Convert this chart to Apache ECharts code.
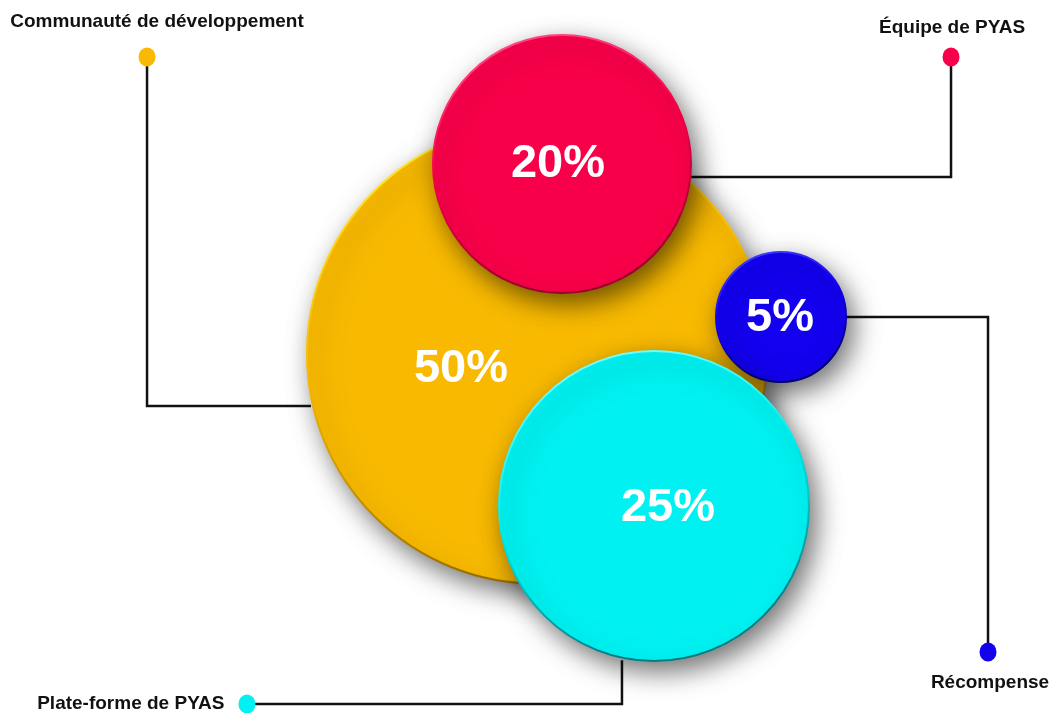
<!DOCTYPE html>
<html>
<head>
<meta charset="utf-8">
<script src="https://cdn.jsdelivr.net/npm/echarts@6/dist/echarts.min.js"></script>
<style>
html,body{margin:0;padding:0;background:#fff;}
#chart{width:1054px;height:713px;}
</style>
</head>
<body>
<div id="chart"></div>
<script>
// ---- data ----
const categories = ['Communauté de développement', 'Équipe de PYAS', 'Récompense', 'Plate-forme de PYAS'];
const shares = [50, 20, 5, 25];

// ---- layout / style (chart units 0..100 on both hidden axes) ----
const bubbleLayout = {
  'Communauté de développement': { center: [50.95, 49.6], size: 460, labelOffset: [-76, 15],
    fill: '#F8B900', rimLight: '#FFF23A', rimDark: '#9A6E00',
    path: [[29.5, 56.94], [13.95, 56.94], [13.95, 8.0]], labelPos: 'top', labelDist: 16, labelShift: [10, 0] },
  'Équipe de PYAS': { center: [53.32, 23.0], size: 258, labelOffset: [-4, 0],
    fill: '#F80049', rimLight: '#FF5C90', rimDark: '#9A002C',
    path: [[65.5, 24.82], [90.23, 24.82], [90.23, 8.0]], labelPos: 'top', labelDist: 10, labelShift: [1, 0] },
  'Récompense': { center: [74.1, 44.46], size: 130, labelOffset: [-1, 1],
    fill: '#1200EE', rimLight: '#4848FF', rimDark: '#000070',
    path: [[80.2, 44.46], [93.74, 44.46], [93.74, 91.44]], labelPos: 'bottom', labelDist: 12, labelShift: [2, 0] },
  'Plate-forme de PYAS': { center: [62.05, 70.97], size: 310, labelOffset: [14, 2],
    fill: '#00F1F1', rimLight: '#9AFFFF', rimDark: '#007C80',
    path: [[59.01, 92.6], [59.01, 98.74], [23.43, 98.74]], labelPos: 'left', labelDist: 14, labelShift: [0, 0] }
};

const chart = echarts.init(document.getElementById('chart'), null, { renderer: 'canvas' });

const connectorSeries = categories.map(function (name) {
  return {
    type: 'line',
    name: name + '-line',
    data: bubbleLayout[name].path,
    symbol: 'none',
    silent: true,
    z: 1,
    lineStyle: { color: '#111', width: 2.5, join: 'miter', cap: 'butt', opacity: 1 },
    emphasis: { disabled: true }
  };
});

const bubbleData = categories.map(function (name, i) {
  const L = bubbleLayout[name];
  return {
    name: name,
    value: [L.center[0], L.center[1], shares[i]],
    symbolSize: L.size,
    itemStyle: {
      color: L.fill,
      opacity: 1,
      borderWidth: 2,
      borderColor: {
        type: 'linear', x: 0, y: 0, x2: 0.3, y2: 1,
        colorStops: [{ offset: 0, color: L.rimLight }, { offset: 0.5, color: L.fill }, { offset: 1, color: L.rimDark }]
      },
      shadowBlur: 26,
      shadowOffsetX: 7,
      shadowOffsetY: 10,
      shadowColor: 'rgba(0,0,0,0.55)'
    },
    label: { offset: L.labelOffset }
  };
});

const dotData = categories.map(function (name) {
  const L = bubbleLayout[name];
  const end = L.path[L.path.length - 1];
  return {
    name: name,
    value: end,
    itemStyle: { color: L.fill, opacity: 1 },
    label: { position: L.labelPos, distance: L.labelDist, offset: L.labelShift }
  };
});

chart.setOption({
  animation: false,
  backgroundColor: '#ffffff',
  grid: { left: 0, right: 0, top: 0, bottom: 0 },
  xAxis: { type: 'value', min: 0, max: 100, show: false },
  yAxis: { type: 'value', min: 0, max: 100, inverse: true, show: false },
  series: connectorSeries.concat([
    {
      type: 'scatter',
      name: 'bubbles',
      z: 3,
      silent: true,
      symbol: 'circle',
      data: bubbleData,
      emphasis: { disabled: true },
      label: {
        show: true,
        position: 'inside',
        formatter: function (p) { return p.value[2] + '%'; },
        color: '#ffffff',
        opacity: 1,
        fontFamily: 'Liberation Sans, Arial, sans-serif',
        fontWeight: 'bold',
        fontSize: 47
      }
    },
    {
      type: 'scatter',
      name: 'dots',
      z: 4,
      silent: true,
      symbol: 'circle',
      symbolSize: [17, 19],
      data: dotData,
      emphasis: { disabled: true },
      label: {
        show: true,
        formatter: '{b}',
        color: '#111111',
        opacity: 1,
        fontFamily: 'Liberation Sans, Arial, sans-serif',
        fontWeight: 'bold',
        fontSize: 19
      }
    }
  ])
});
</script>
</body>
</html>
